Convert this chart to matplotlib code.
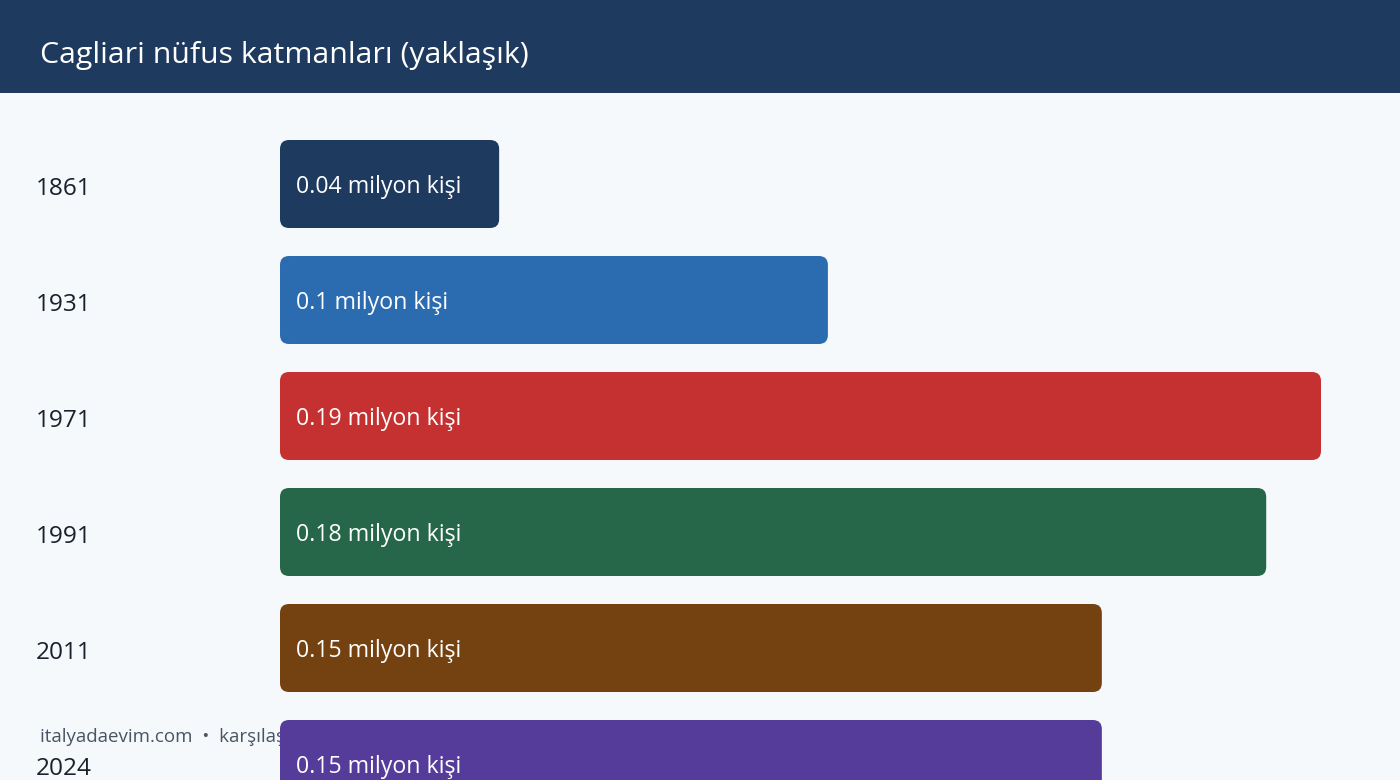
import matplotlib
matplotlib.use("Agg")
import matplotlib.pyplot as plt
from matplotlib.patches import FancyBboxPatch, Rectangle

plt.rcParams['font.family'] = ['Open Sans', 'DejaVu Sans']

# data
years = ["1861", "1931", "1971", "1991", "2011", "2024"]
population = [0.04, 0.1, 0.19, 0.18, 0.15, 0.15]  # million
labels = ["0.04 milyon kişi", "0.1 milyon kişi", "0.19 milyon kişi",
          "0.18 milyon kişi", "0.15 milyon kişi", "0.15 milyon kişi"]
colors = ["#1f3a5f", "#2b6cb0", "#c53030", "#276749", "#744210", "#553c9a"]
title = "Cagliari nüfus katmanları (yaklaşık)"
footer = "italyadaevim.com  •  karşılaştırmalı nüfus verileri"

W, H = 1400, 780
bg = "#f5f9fc"
fig = plt.figure(figsize=(W / 100, H / 100), dpi=100, facecolor=bg)

# header band
fig.patches.append(Rectangle((0, 1 - 93 / H), 1, 93 / H, transform=fig.transFigure,
                             facecolor="#1f3a5f", edgecolor="none", zorder=0))
fig.text(40 / W, 1 - 55 / H, title, color="white", fontsize=21.8, va="center", ha="left")

# footer sits under the bars
fig.text(40 / W, 1 - 737 / H, footer, color="#4a5563", fontsize=13.5, va="center",
         ha="left", zorder=1)

# plot area: x=0 at px 280, x=max at px 1321; rows 116 px apart
x0, x1 = 280, 1321
row = 116
c0 = 184
ytop = (93 - c0) / row
ybot = (H - c0) / row
ax = fig.add_axes([x0 / W, 0, (x1 - x0) / W, (H - 93) / H], zorder=2)
ax.set_facecolor("none")
xmax = max(population)
ax.set_xlim(0, xmax)
ax.set_ylim(ybot, ytop)
ax.axis("off")

px_per_x = (x1 - x0) / xmax
bar_h = 88 / row
rad = 9 / px_per_x
aspect = px_per_x / row

for i, (v, lab, col) in enumerate(zip(population, labels, colors)):
    p = FancyBboxPatch((0, i - bar_h / 2), v, bar_h,
                       boxstyle="round,pad=0,rounding_size=%f" % rad,
                       mutation_aspect=aspect, facecolor=col, edgecolor="none",
                       clip_on=False)
    ax.add_patch(p)
    ax.text(16 / px_per_x, i + 3 / row, lab, color="white", fontsize=16.7,
            va="center", ha="left")
    fig.text(36 / W, 1 - (c0 + row * i + 5) / H, years[i], color="#1a202c",
             fontsize=17.6, va="center", ha="left", zorder=1)

fig.savefig("out.png", dpi=100, facecolor=bg)
